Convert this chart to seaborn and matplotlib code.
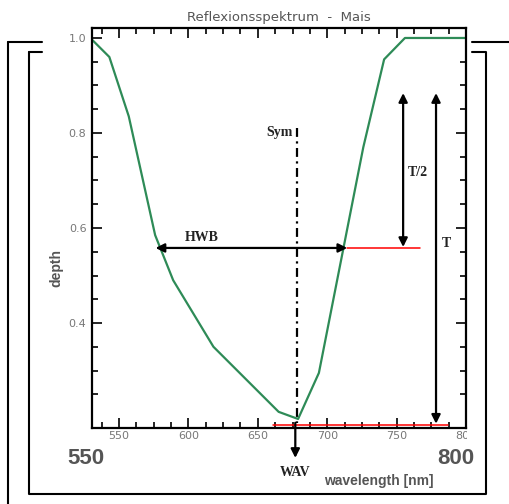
import matplotlib
matplotlib.use("Agg")
import matplotlib.pyplot as plt
from matplotlib.lines import Line2D
from matplotlib.transforms import Bbox, TransformedBbox
import numpy as np
import pandas as pd
import seaborn as sns

# spectrum
wavelength = [531, 543, 557, 576, 589, 618, 665, 679, 694, 726, 741, 756, 800]
depth = [0.995, 0.96, 0.835, 0.585, 0.49, 0.35, 0.213, 0.198, 0.295, 0.77, 0.955, 1.0, 1.0]

x_ticks = [550, 600, 650, 700, 750, 800]
y_ticks = [0.4, 0.6, 0.8, 1.0]

# band markers (data units)
wav = 678.0
half_depth = 0.558
base_depth = 0.186
top_depth = 0.884
hwb_left, hwb_right = 576.3, 714.4
half_x, full_x = 754.7, 778.4

W, H = 510, 504
GREEN = "#2e8b57"
GRAY = "#555555"


def fx(x):
    return x / W


def fy(y):
    return 1 - y / H


sns.set_style("ticks")
plt.rcParams["font.family"] = ["DejaVu Sans"]

fig = plt.figure(figsize=(W / 100, H / 100), dpi=100)
ax = fig.add_axes([fx(92), fy(428), (466 - 92) / W, (428 - 28) / H])

df = pd.DataFrame({"wavelength": wavelength, "depth": depth})
sns.lineplot(data=df, x="wavelength", y="depth", sort=False, color=GREEN,
             lw=1.6, ax=ax, legend=False)

ax.set_xlim(530.5, 800)
ax.set_ylim(0.179, 1.021)
ax.set_xticks(x_ticks)
ax.set_xticks(np.arange(537.5, 800, 12.5), minor=True)
ax.set_yticks(y_ticks)
ax.set_yticks(np.round(np.arange(0.25, 1.0, 0.05), 2), minor=True)
ax.set_xticklabels([str(v) for v in x_ticks])
ax.set_yticklabels([f"{v:.1f}" for v in y_ticks])
ax.tick_params(which="both", direction="in", top=True, right=True,
               color="k", width=1.2, labelsize=8, labelcolor="#777777")
ax.tick_params(which="major", length=7)
ax.tick_params(which="minor", length=4.5)
ax.tick_params(axis="x", pad=2)
ax.tick_params(axis="y", pad=4)
ax.set_xlabel("")
ax.set_ylabel("")
for sp in ax.spines.values():
    sp.set_linewidth(1.6)
    sp.set_color("k")

# the last x label is cut at the frame edge in the reference
clip = TransformedBbox(Bbox.from_extents(0, 0, fx(467), 1), fig.transFigure)
for lab in ax.get_xticklabels():
    lab.set_clip_on(True)
    lab.set_clip_box(clip)

# ── annotations ───────────────────────────────────────────────────────
arrow = dict(arrowstyle="<|-|>", lw=1.6, color="k", mutation_scale=13,
             shrinkA=0, shrinkB=0)
ax.annotate("", xy=(hwb_left, half_depth), xytext=(hwb_right, half_depth),
            arrowprops=arrow)
ax.annotate("", xy=(half_x, top_depth), xytext=(half_x, half_depth + 0.002),
            arrowprops=arrow)
ax.annotate("", xy=(full_x, top_depth), xytext=(full_x, base_depth + 0.002),
            arrowprops=arrow)
ax.plot([hwb_right, 767], [half_depth, half_depth], color="red", lw=1.1)
ax.plot([661, 787], [base_depth, base_depth], color="red", lw=1.1)

ax.plot([wav, wav], [0.81, 0.19], color="k", lw=1.6,
        linestyle=(0, (4, 2, 1, 2)), clip_on=False)
ax.annotate("", xy=(wav - 1, 0.116), xytext=(wav - 1, 0.19),
            arrowprops=dict(arrowstyle="-|>", lw=1.6, color="k",
                            mutation_scale=13, shrinkA=0, shrinkB=0),
            annotation_clip=False)

serif = dict(family="Liberation Serif", fontweight="bold", fontsize=10,
             color="#222222", ha="center", va="center")
ax.text(665.8, 0.80, "Sym", **serif)
ax.text(609.4, 0.579, "HWB", **serif)
ax.text(765.5, 0.716, "T/2", **serif)
ax.text(785.6, 0.568, "T", **serif)
fig.text(fx(295), fy(473), "WAV", **serif)

# ── outer labels ──────────────────────────────────────────────────────
fig.text(fx(278.5), fy(18), "Reflexionsspektrum  -  Mais", ha="center",
         va="center", fontsize=9.5, color="#555555")
big = dict(family="Liberation Sans", fontweight="bold", fontsize=16,
           color=GRAY, ha="center", va="center")
fig.text(fx(85.5), fy(458), "550", **big)
fig.text(fx(455.5), fy(459), "800", **big)
fig.text(fx(379), fy(481), "wavelength [nm]", family="Liberation Sans",
         fontweight="bold", fontsize=10, color=GRAY, ha="center", va="center")
fig.text(fx(56), fy(268), "depth", family="Liberation Sans",
         fontweight="bold", fontsize=10, color=GRAY, ha="center",
         va="center", rotation=90)

# ── bracket frame ─────────────────────────────────────────────────────
frame = [
    [(8, 42), (42, 42)],
    [(8, 42), (8, 504)],
    [(29, 52), (42, 52)],
    [(29, 52), (29, 494), (486, 494), (486, 52), (472, 52)],
    [(472, 42), (510, 42)],
]
for seg in frame:
    xs = [fx(p[0]) for p in seg]
    ys = [fy(p[1]) for p in seg]
    fig.add_artist(Line2D(xs, ys, color="k", lw=1.5,
                          transform=fig.transFigure))

fig.savefig("out.png", dpi=100)
